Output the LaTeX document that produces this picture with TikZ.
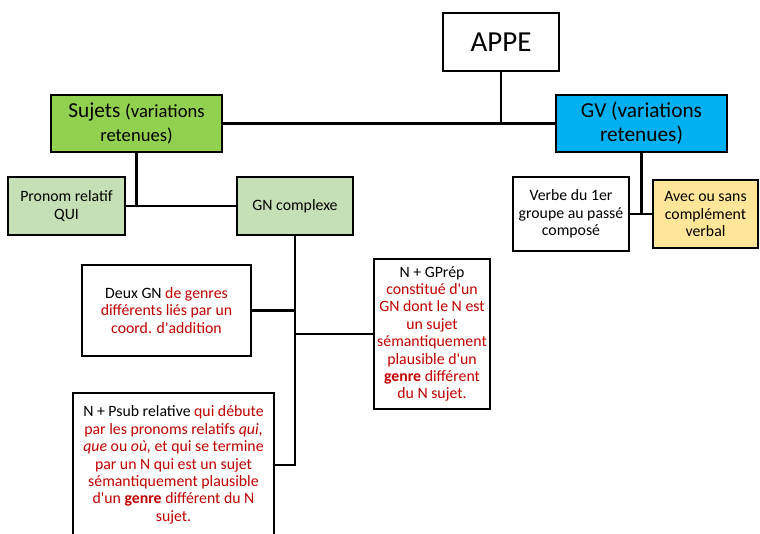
\documentclass[tikz,border=0pt]{standalone}
\usepackage{fontspec}
\setmainfont{Carlito}[Ligatures=TeXOff]
\definecolor{sujgreen}{HTML}{92D050}
\definecolor{gvblue}{HTML}{00B0F0}
\definecolor{palegreen}{HTML}{C5E0B4}
\definecolor{paleyellow}{HTML}{FFE699}
\definecolor{txtred}{HTML}{C00000}
\newcommand{\rd}[1]{\textcolor{txtred}{#1}}
\newcommand{\smallsz}{\fontsize{15.8}{17.4}\selectfont}
\newcommand{\midsz}{\fontsize{18.6}{23.8}\selectfont}
\newcommand{\bigsz}{\fontsize{21.3}{23.8}\selectfont}

\begin{document}
\begin{tikzpicture}[x=1pt,y=1pt,
  box/.style={draw=black, line width=2.5pt, fill=white, inner sep=0pt,
              align=center, font=\smallsz},
  link/.style={line width=2.8pt}]
\useasboundingbox (0,0) rectangle (760,-533);
\begin{scope}
\clip (0,0) rectangle (760,-533);

% top level
\node[box, minimum width=116, minimum height=58,
      font=\fontsize{29}{33}\selectfont] (appe) at (501,-42) {APPE};
\node[box, fill=sujgreen, minimum width=171, minimum height=57, font=\bigsz] (sujets)
  at (136.5,-123.5) {Sujets {\midsz(variations}\\{\midsz retenues)}};
\node[box, fill=gvblue, minimum width=171, minimum height=57, font=\bigsz] (gv)
  at (641.5,-123.5) {GV (variations\\retenues)};

% subject branch
\node[box, fill=palegreen, minimum width=117, minimum height=58] (pronom)
  at (66.5,-206) {Pronom relatif\\QUI};
\node[box, fill=palegreen, minimum width=116, minimum height=58] (gnc)
  at (295,-206) {GN complexe};

% verb branch
\node[box, minimum width=116, minimum height=74] (verbe)
  at (571,-214) {Verbe du 1er\\groupe au passé\\composé};
\node[box, fill=paleyellow, minimum width=105, minimum height=68] (avec)
  at (705.5,-214) {Avec ou sans\\complément\\verbal};

% complex noun phrases
\node[box, minimum width=169, minimum height=91] (deux)
  at (166.5,-310.5) {Deux GN \rd{de genres}\\\rd{différents liés par un}\\\rd{coord. d'addition}};
\node[box, minimum width=116, minimum height=150] (gprep)
  at (432,-334) {N + GPrép\\\rd{constitué d'un}\\\rd{GN dont le N est}\\\rd{un sujet}\\\rd{sémantiquement}\\\rd{plausible d'un}\\\rd{\textbf{genre} différent}\\\rd{du N sujet.}};
\node[box, minimum width=201, minimum height=144] (psub)
  at (173.5,-465) {N + Psub relative \rd{qui débute}\\\rd{par les pronoms relatifs \textit{qui},}\\\rd{\textit{que} ou \textit{où,} et qui se termine}\\\rd{par un N qui est un sujet}\\\rd{sémantiquement plausible}\\\rd{d'un \textbf{genre} différent du N}\\\rd{sujet.}};

% connectors
\coordinate (pj) at (295,-465);
\draw[link] (appe.south) -- (appe.south |- sujets.east);
\draw[link] (sujets.east) -- (gv.west);
\draw[link] (sujets.south) -- (sujets.south |- pronom.east);
\draw[link] (pronom.east) -- (gnc.west);
\draw[link] (gv.south) -- (gv.south |- verbe.east);
\draw[link] (verbe.east) -- (avec.west);
\draw[link] (gnc.south) -- (pj) -- (psub.east);
\draw[link] (deux.east) -- (deux.east -| gnc.south);
\draw[link] (gprep.west -| gnc.south) -- (gprep.west);
\end{scope}
\end{tikzpicture}
\end{document}
